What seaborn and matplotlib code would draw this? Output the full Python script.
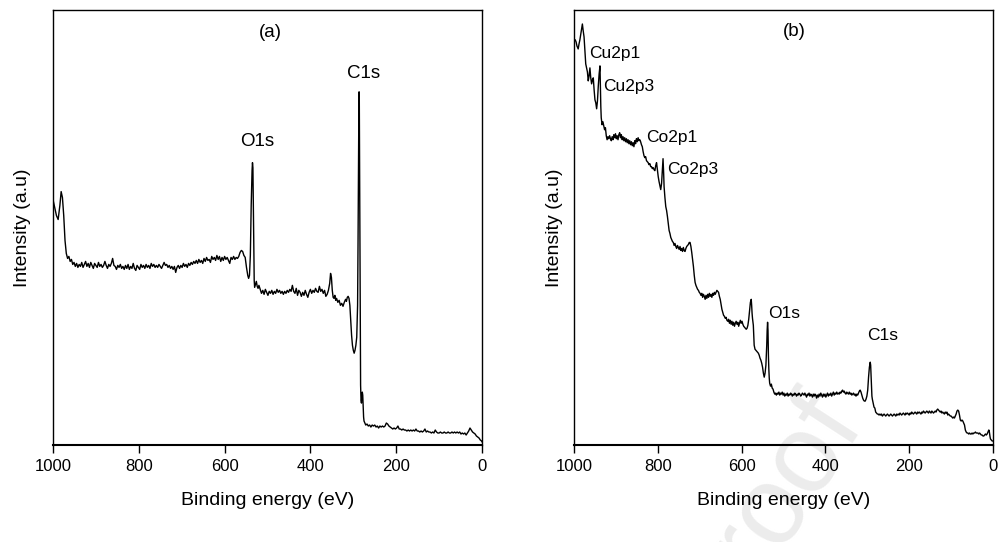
import numpy as np
import pandas as pd
import matplotlib
matplotlib.use("Agg")
import matplotlib.pyplot as plt
import seaborn as sns

# ---------------- data ----------------
energy_a = [1000, 996, 992, 988, 984, 981, 978, 975, 972, 969, 966, 963, 960, 957, 954, 951, 948, 945, 942, 939,
            936, 933, 930, 927, 924, 921, 918, 915, 912, 909, 906, 903, 900, 897, 894, 891, 888, 885, 882, 879,
            876, 873, 870, 867, 864, 861, 858, 855, 852, 849, 846, 843, 840, 837, 834, 831, 828, 825, 822, 819,
            816, 813, 810, 807, 804, 801, 798, 795, 792, 789, 786, 783, 780, 777, 774, 771, 768, 765, 762, 759,
            756, 753, 750, 747, 744, 741, 738, 735, 732, 729, 726, 723, 720, 717, 714, 711, 708, 705, 702, 699,
            696, 693, 690, 687, 684, 681, 678, 675, 672, 669, 666, 663, 660, 657, 654, 651, 648, 645, 642, 639,
            636, 633, 630, 627, 624, 621, 618, 615, 612, 609, 606, 603, 600, 597, 594, 591, 588, 585, 582, 579,
            576, 573, 570, 567, 564, 561, 558, 555, 552, 549, 546, 544, 542, 540, 538, 536, 535, 534, 533, 532,
            531, 530, 528, 526, 524, 522, 520, 517, 514, 511, 508, 505, 502, 499, 496, 493, 490, 487, 484, 481,
            478, 475, 472, 469, 466, 463, 460, 457, 454, 451, 448, 445, 442, 439, 436, 433, 430, 427, 424, 421,
            418, 415, 412, 409, 406, 403, 400, 397, 394, 391, 388, 385, 382, 379, 376, 373, 370, 367, 364, 361,
            358, 355, 353, 351, 349, 347, 345, 343, 341, 339, 336, 333, 330, 327, 324, 321, 318, 316, 314, 312,
            310, 308, 306, 304, 302, 300, 298, 296, 294, 292, 290, 289, 288, 287, 286.5, 286, 285, 284, 283.5, 283,
            282, 281, 280, 279, 278, 277, 276, 275, 273, 271, 268, 265, 262, 259, 256, 253, 250, 247, 244, 241,
            238, 235, 232, 229, 226, 223, 220, 217, 214, 211, 208, 205, 202, 199, 196, 193, 190, 187, 184, 181,
            178, 175, 172, 169, 166, 163, 160, 157, 154, 151, 148, 145, 142, 139, 136, 133, 130, 127, 124, 121,
            118, 115, 112, 109, 106, 103, 100, 97, 94, 91, 88, 85, 82, 79, 76, 73, 70, 67, 64, 61,
            58, 55, 52, 49, 46, 43, 40, 37, 34, 31, 28, 25, 22, 19, 16, 13, 10, 7, 4, 1, 0]
intensity_a = [246, 238, 230, 226, 240, 254, 248, 230, 205, 192, 187, 189, 184, 186, 181, 183, 179, 182, 178, 181,
               179, 183, 178, 181, 184, 179, 182, 178, 183, 180, 177, 182, 180, 178, 183, 179, 181, 178, 180, 184,
               180, 177, 181, 179, 182, 187, 180, 179, 176, 180, 178, 181, 177, 179, 176, 180, 177, 181, 176, 179,
               177, 182, 177, 175, 180, 178, 176, 181, 178, 180, 177, 181, 178, 180, 177, 182, 179, 181, 178, 180,
               178, 181, 179, 177, 180, 183, 180, 181, 178, 180, 177, 179, 176, 179, 173, 178, 180, 177, 180, 178,
               182, 179, 181, 178, 182, 180, 183, 181, 184, 182, 185, 182, 186, 183, 185, 182, 187, 184, 188, 185,
               186, 183, 189, 186, 188, 185, 190, 186, 189, 184, 188, 185, 189, 186, 188, 185, 182, 188, 186, 189,
               186, 188, 187, 189, 193, 195, 194, 190, 188, 178, 170, 167, 170, 190, 240, 275, 283, 278, 240, 195,
               165, 158, 161, 164, 159, 157, 160, 156, 152, 155, 151, 156, 153, 150, 154, 152, 155, 151, 154, 152,
               156, 153, 155, 152, 154, 151, 154, 152, 155, 153, 156, 154, 160, 154, 152, 157, 150, 155, 153, 149,
               153, 150, 155, 151, 148, 153, 156, 152, 155, 153, 157, 154, 153, 159, 154, 156, 152, 155, 149, 151,
               155, 162, 172, 168, 155, 148, 147, 150, 145, 147, 143, 145, 140, 142, 139, 143, 146, 144, 148, 149,
               147, 140, 125, 110, 100, 95, 92, 95, 100, 108, 140, 200, 280, 340, 354, 345, 250, 140, 85, 60,
               45, 42, 50, 53, 50, 40, 28, 24, 22, 20, 21, 19, 20, 18, 20, 19, 20, 18, 19, 17,
               19, 18, 19, 18, 19, 22, 21, 19, 18, 17, 16, 17, 16, 17, 19, 16, 16, 15, 16, 15,
               15, 14, 15, 14, 15, 14, 15, 14, 16, 14, 14, 13, 14, 13, 14, 16, 13, 14, 13, 13,
               12, 13, 12, 15, 13, 12, 12, 13, 12, 12, 13, 12, 12, 13, 12, 12, 13, 12, 13, 12,
               13, 12, 13, 11, 12, 11, 12, 10, 12, 14, 17, 15, 13, 12, 11, 9, 8, 7, 5, 4, 3]

energy_b = [1000, 997, 995, 993, 990, 988, 986, 983, 980, 978, 976, 974, 972, 970, 968, 966, 964, 962, 960, 958,
            956, 954, 952, 950, 948, 946, 944, 942, 940, 938, 937, 936, 935, 933, 931, 929, 927, 925, 923, 921,
            919, 917, 915, 913, 911, 909, 907, 905, 903, 901, 899, 897, 895, 893, 891, 889, 887, 885, 883, 881,
            879, 877, 875, 873, 871, 869, 867, 865, 863, 861, 859, 857, 855, 853, 851, 849, 847, 845, 843, 841,
            839, 837, 835, 833, 831, 829, 827, 825, 823, 821, 819, 817, 815, 813, 811, 809, 807, 805, 803, 801,
            799, 797, 795, 793, 791, 789, 787.5, 786, 785, 783, 781, 779, 777, 775, 773, 771, 769, 767, 765, 763,
            761, 759, 757, 755, 753, 751, 749, 747, 745, 743, 741, 739, 737, 735, 733, 731, 729, 727, 725, 723,
            721, 719, 717, 715, 713, 711, 709, 707, 705, 703, 701, 699, 697, 695, 693, 691, 689, 687, 685, 683,
            681, 679, 677, 675, 673, 671, 669, 667, 665, 663, 661, 659, 657, 655, 653, 651, 649, 647, 645, 643,
            641, 639, 637, 635, 633, 631, 629, 627, 625, 623, 621, 619, 617, 615, 613, 611, 609, 607, 605, 603,
            601, 599, 597, 595, 593, 591, 589, 587, 585, 583, 581, 579, 577, 576, 575, 574, 572, 571, 570, 568,
            566, 564, 562, 560, 558, 556, 554, 552, 550, 548, 546, 544, 542, 540, 539, 538, 537, 536, 535, 534,
            533, 531, 529, 527, 525, 523, 521, 519, 517, 515, 513, 511, 509, 507, 505, 503, 501, 499, 497, 495,
            493, 491, 489, 487, 485, 483, 481, 479, 477, 475, 473, 471, 469, 467, 465, 463, 461, 459, 457, 455,
            453, 451, 449, 447, 445, 443, 441, 439, 437, 435, 433, 431, 429, 427, 425, 423, 421, 419, 417, 415,
            413, 411, 409, 407, 405, 403, 401, 399, 397, 395, 393, 391, 389, 387, 385, 383, 381, 379, 377, 375,
            373, 371, 369, 367, 365, 363, 361, 359, 357, 355, 353, 351, 349, 347, 345, 343, 341, 339, 337, 335,
            333, 331, 329, 327, 325, 323, 321, 319, 317, 315, 313, 311, 309, 307, 305, 303, 301, 299, 297, 295,
            293, 292, 291, 290, 289, 288, 286, 284, 282, 280, 278, 276, 274, 272, 270, 268, 266, 264, 262, 260,
            258, 256, 254, 252, 250, 248, 246, 244, 242, 240, 238, 236, 234, 232, 230, 228, 226, 224, 222, 220,
            218, 216, 214, 212, 210, 208, 206, 204, 202, 200, 198, 196, 194, 192, 190, 188, 186, 184, 182, 180,
            178, 176, 174, 172, 170, 168, 166, 164, 162, 160, 158, 156, 154, 152, 150, 148, 146, 144, 142, 140,
            138, 136, 134, 132, 130, 128, 126, 124, 122, 120, 118, 116, 114, 112, 110, 108, 106, 104, 102, 100,
            98, 96, 94, 92, 90, 88, 86, 84, 82, 80, 78, 76, 74, 72, 70, 68, 66, 64, 62, 60,
            58, 56, 54, 52, 50, 48, 46, 44, 42, 40, 38, 36, 34, 32, 30, 28, 26, 24, 22, 20,
            18, 16, 14, 12, 10, 9, 8, 7, 6, 4, 2, 0]
intensity_b = [407, 406, 404, 400, 397, 402, 406, 414, 422, 415, 409, 395, 382, 378, 374, 365, 370, 378, 368, 362,
               366, 368, 356, 346, 343, 337, 345, 360, 372, 380, 360, 339, 328, 321, 324, 320, 316, 318, 310, 306,
               309, 307, 310, 307, 305, 309, 306, 311, 308, 312, 307, 310, 306, 311, 313, 308, 311, 306, 309, 305,
               308, 304, 307, 303, 306, 302, 305, 301, 304, 300, 303, 299, 305, 302, 307, 304, 308, 305, 306, 304,
               301, 299, 294, 290, 288, 289, 285, 284, 283, 281, 282, 279, 279, 277, 278, 276, 275, 280, 283, 276,
               269, 264, 260, 256, 262, 276, 287, 272, 259, 248, 239, 235, 229, 222, 215, 212, 208, 206, 204, 203,
               200, 202, 199, 197, 200, 198, 196, 199, 195, 197, 194, 198, 195, 194, 197, 199, 200, 201, 203, 203,
               199, 193, 186, 179, 170, 163, 160, 158, 156, 155, 153, 152, 150, 152, 148, 151, 149, 146, 150, 147,
               151, 148, 152, 149, 151, 148, 152, 150, 153, 151, 153, 155, 154, 153, 149, 146, 141, 136, 133, 130,
               129, 127, 128, 125, 124, 126, 122, 125, 121, 124, 120, 123, 119, 122, 124, 121, 123, 119, 122, 125,
               122, 124, 121, 119, 118, 117, 116, 117, 120, 126, 135, 143, 146, 140, 132, 127, 120, 110, 100, 96,
               95, 94, 93, 92, 90, 87, 85, 82, 78, 72, 68, 72, 80, 100, 115, 123, 115, 90, 76, 67,
               62, 59, 61, 57, 56, 53, 51, 52, 50, 52, 51, 53, 50, 52, 51, 53, 50, 52, 49, 51,
               50, 52, 49, 51, 50, 52, 51, 49, 51, 50, 52, 51, 49, 51, 50, 52, 51, 49, 50, 52,
               51, 50, 52, 50, 48, 51, 50, 52, 49, 51, 50, 48, 51, 49, 51, 50, 47, 50, 48, 51,
               49, 52, 50, 48, 51, 49, 51, 48, 50, 52, 49, 51, 50, 52, 49, 51, 53, 50, 52, 51,
               53, 51, 52, 51, 53, 52, 54, 55, 53, 54, 52, 51, 53, 52, 51, 53, 51, 52, 50, 51,
               52, 50, 51, 49, 51, 50, 52, 54, 55, 53, 50, 47, 45, 44, 44, 46, 49, 55, 68, 78,
               83, 80, 70, 58, 49, 46, 42, 38, 37, 33, 32, 31, 31, 30, 31, 30, 31, 29, 30, 31,
               30, 29, 30, 31, 30, 29, 30, 31, 30, 29, 30, 31, 30, 29, 31, 30, 31, 30, 32, 31,
               30, 31, 32, 31, 30, 32, 31, 32, 31, 30, 32, 31, 33, 32, 31, 32, 33, 32, 31, 33,
               32, 33, 32, 31, 33, 32, 34, 33, 32, 33, 34, 33, 32, 34, 33, 32, 34, 33, 32, 33,
               34, 33, 35, 36, 35, 34, 33, 34, 32, 33, 32, 31, 33, 32, 33, 30, 31, 30, 29, 29,
               28, 27, 28, 27, 29, 31, 34, 35, 34, 30, 25, 24, 25, 24, 22, 20, 15, 13, 12, 12,
               11, 12, 11, 11, 12, 11, 12, 12, 13, 12, 12, 12, 11, 12, 11, 10, 10, 9, 9, 10,
               11, 10, 11, 13, 15, 14, 11, 8, 6, 5, 4, 4]

xticks = [0, 200, 400, 600, 800, 1000]
labels_a = [("(a)", 494, 413, "center", 13.5), ("O1s", 524, 304, "center", 13.5),
            ("C1s", 276, 372, "center", 13.5)]
labels_b = [("(b)", 475, 414, "center", 13.5), ("Cu2p1", 963, 392, "left", 12.5),
            ("Cu2p3", 930, 359, "left", 12.5), ("Co2p1", 827, 308, "left", 12.5),
            ("Co2p3", 777, 276, "left", 12.5), ("O1s", 536, 132, "left", 12.5),
            ("C1s", 300, 110, "left", 12.5)]

# ---------------- styling ----------------
sns.set_style("ticks")
plt.rcParams["font.family"] = ["Liberation Sans", "DejaVu Sans"]
plt.rcParams["axes.edgecolor"] = "black"
plt.rcParams["axes.linewidth"] = 1.0
plt.rcParams["text.color"] = "black"
plt.rcParams["axes.labelcolor"] = "black"
plt.rcParams["xtick.color"] = "black"
plt.rcParams["ytick.color"] = "black"

fig = plt.figure(figsize=(10, 5.42), dpi=100)
ax_a = fig.add_axes([0.053, 0.179, 0.429, 0.8025])
ax_b = fig.add_axes([0.574, 0.179, 0.419, 0.8025])

# faint watermark
fig.text(0.862, 0.23, "Pre-proof", fontsize=80, color="#ececec", rotation=57,
         rotation_mode="anchor", ha="right", va="baseline", zorder=-5,
         family=["Liberation Sans", "DejaVu Sans"])

df_a = pd.DataFrame({"energy": energy_a, "intensity": intensity_a})
df_b = pd.DataFrame({"energy": energy_b, "intensity": intensity_b})

for ax, df, labels, pad in [(ax_a, df_a, labels_a, 16), (ax_b, df_b, labels_b, 8)]:
    ax.patch.set_alpha(0)
    sns.lineplot(data=df, x="energy", y="intensity", ax=ax, color="black",
                 linewidth=1.0, sort=False, estimator=None)
    ax.set_xlim(1000, 0)
    ax.set_ylim(0, 436)
    ax.set_xticks(xticks)
    ax.set_xticklabels([str(t) for t in xticks], fontsize=12)
    ax.set_yticks([])
    ax.tick_params(axis="x", direction="out", length=6, width=1, pad=4)
    ax.spines["bottom"].set_linewidth(1.5)
    for s in ["top", "right", "left"]:
        ax.spines[s].set_visible(True)
        ax.spines[s].set_linewidth(1.0)
    ax.set_xlabel("Binding energy (eV)", fontsize=14, labelpad=13)
    ax.set_ylabel("Intensity (a.u)", fontsize=14, labelpad=pad)
    for txt, x, y, ha, fs in labels:
        ax.text(x, y, txt, fontsize=fs, ha=ha, va="center", color="black")

fig.savefig("out.png", dpi=100)
